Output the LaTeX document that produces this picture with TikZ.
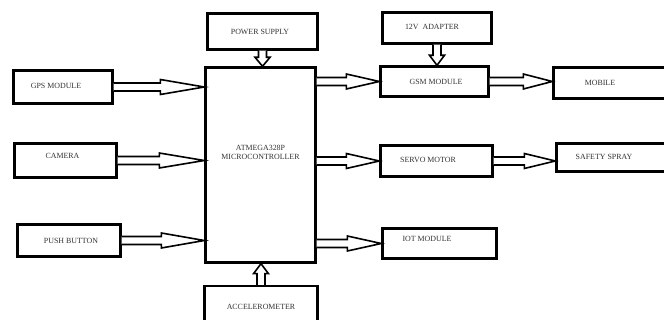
\documentclass[tikz,border=0pt]{standalone}
\usepackage{fontspec}
\setmainfont{Liberation Serif}
\usetikzlibrary{calc}
\def\arrsw{4pt}
\def\arrhw{7.5pt}
\newcommand{\hollowarrow}[3]{%
  \draw[harrow] let \p1=($(#2)!#3!(#1)$) in
    ($(#1)!\arrsw!90:(#2)$) -- ($(\p1)!\arrsw!90:(#2)$) -- ($(\p1)!\arrhw!90:(#2)$)
    -- (#2) -- ($(\p1)!\arrhw!-90:(#2)$) -- ($(\p1)!\arrsw!-90:(#2)$) -- ($(#1)!\arrsw!-90:(#2)$);%
}
\tikzset{
  box/.style={draw=black, line width=2.4pt, fill=white, inner sep=0pt},
  lbl/.style={font=\fontsize{7.9}{9}\selectfont, text=black!80, align=center},
  harrow/.style={draw=black, line width=1.6pt, fill=white, line join=miter},
}
\begin{document}
\begin{tikzpicture}[x=1pt,y=-1pt]
\path[use as bounding box, clip] (0,0) rectangle (664,320);
\fill[white] (0,0) rectangle (664,320);
% left column
\node[box, minimum width=99pt, minimum height=33pt,
  label={[lbl, xshift=-7pt, yshift=1.5pt]center:GPS MODULE}] (gps) at (63,87) {};
\node[box, minimum width=102pt, minimum height=34pt,
  label={[lbl, xshift=-3pt, yshift=5pt]center:CAMERA}] (cam) at (65.5,160.5) {};
\node[box, minimum width=103pt, minimum height=32pt,
  label={[lbl, xshift=2pt]center:PUSH BUTTON}] (push) at (69,240.5) {};
% centre column
\node[box, minimum width=110pt, minimum height=36pt,
  label={[lbl, xshift=-2.5pt]center:POWER SUPPLY}] (ps) at (262.5,31.5) {};
\node[box, minimum width=110pt, minimum height=195pt,
  label={[lbl, yshift=13pt]center:ATMEGA328P\\MICROCONTROLLER}] (mcu) at (260.5,165) {};
\node[box, minimum width=113pt, minimum height=40pt,
  label={[lbl, yshift=-1pt]center:ACCELEROMETER}] (acc) at (261,306) {};
% right column
\node[box, minimum width=109pt, minimum height=31pt,
  label={[lbl, xshift=-5pt, yshift=1pt]center:12V\ \ ADAPTER}] (adp) at (437,28) {};
\node[box, minimum width=108pt, minimum height=30pt,
  label={[lbl, xshift=1.5pt]center:GSM MODULE}] (gsm) at (434.5,81.5) {};
\node[box, minimum width=112pt, minimum height=31pt,
  label={[lbl, xshift=-8.5pt, yshift=1pt]center:SERVO MOTOR}] (servo) at (436.5,161) {};
\node[box, minimum width=114pt, minimum height=30pt,
  label={[lbl, xshift=-12.5pt, yshift=4.5pt]center:IOT MODULE}] (iot) at (439.5,243.5) {};
\node[box, minimum width=126pt, minimum height=31pt,
  label={[lbl, xshift=-16.5pt]center:MOBILE}] (mob) at (616.5,83) {};
\node[box, minimum width=123pt, minimum height=28pt,
  label={[lbl, xshift=-14pt, yshift=0.5pt]center:SAFETY SPRAY}] (spray) at (618,157.5) {};
% arrow end points
\coordinate (gpsT) at (gps.east -| mcu.west);
\coordinate (camT) at (cam.east -| mcu.west);
\coordinate (pushT) at (push.east -| mcu.west);
\coordinate (gsmS) at (mcu.east |- gsm.west);
\coordinate (servoS) at (mcu.east |- servo.west);
\coordinate (iotS) at (mcu.east |- iot.west);
\coordinate (mobT) at (gsm.east -| mob.west);
\coordinate (sprayT) at (servo.east -| spray.west);
\coordinate (psT) at (ps.south |- mcu.north);
\coordinate (adpT) at (adp.south |- gsm.north);
\coordinate (accT) at (acc.north |- mcu.south);
% arrows
\hollowarrow{gps.east}{gpsT}{44pt}
\hollowarrow{cam.east}{camT}{45pt}
\hollowarrow{push.east}{pushT}{43pt}
\hollowarrow{gsmS}{gsm.west}{33pt}
\hollowarrow{servoS}{servo.west}{33pt}
\hollowarrow{iotS}{iot.west}{34pt}
\hollowarrow{gsm.east}{mobT}{29pt}
\hollowarrow{servo.east}{sprayT}{31pt}
\hollowarrow{ps.south}{psT}{9pt}
\hollowarrow{adp.south}{adpT}{10pt}
\hollowarrow{acc.north}{accT}{10pt}
\end{tikzpicture}
\end{document}
